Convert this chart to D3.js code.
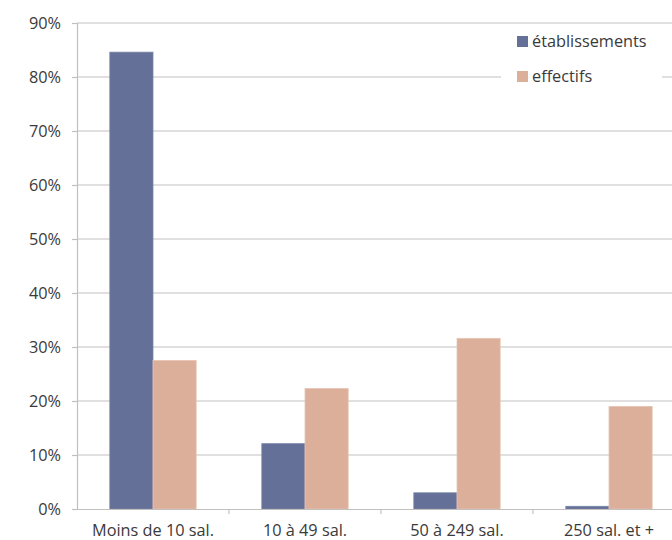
<!DOCTYPE html>
<html>
<head>
<meta charset="utf-8">
<script src="https://cdn.jsdelivr.net/npm/d3@7"></script>
<style>
  body { margin: 0; background: #fff; }
  text { font-family: "Open Sans", Lato, sans-serif; fill: #3a3a3a; }
</style>
</head>
<body>
<svg id="chart" width="672" height="540"></svg>
<script>
const categories = ['Moins de 10 sal.', '10 à 49 sal.', '50 à 249 sal.', '250 sal. et +'];
const seriesNames = ['établissements', 'effectifs'];
const etablissements = [0.846, 0.121, 0.030, 0.005];
const effectifs = [0.275, 0.223, 0.316, 0.190];
const yTicks = [0, 0.1, 0.2, 0.3, 0.4, 0.5, 0.6, 0.7, 0.8, 0.9];

const colours = ['#647097', '#dbaf9a'];
const fontSize = '16.3px';

const svg = d3.select('#chart');
const margin = { left: 77, top: 23, bottom: 31 };
const plotRight = 77 + 4 * 152;
const height = 540 - margin.bottom;

const x = d3.scaleBand()
  .domain(categories)
  .range([margin.left, plotRight])
  .paddingInner(0)
  .paddingOuter(0);

const xInner = d3.scaleBand()
  .domain(seriesNames)
  .range([0, x.bandwidth()])
  .paddingInner(0)
  .paddingOuter(0.76);

const y = d3.scaleLinear()
  .domain([0, 0.9])
  .range([height, margin.top]);

// gridlines
svg.append('g')
  .selectAll('line')
  .data(yTicks.slice(1))
  .join('line')
  .attr('x1', margin.left)
  .attr('x2', 672)
  .attr('y1', (d) => y(d))
  .attr('y2', (d) => y(d))
  .attr('stroke', '#c3bfbf')
  .attr('stroke-width', 1.2);

// bars
const rows = categories.map((c, i) => ({ cat: c, values: [etablissements[i], effectifs[i]] }));
svg.append('g')
  .selectAll('g')
  .data(rows)
  .join('g')
  .attr('transform', (d) => `translate(${x(d.cat)},0)`)
  .selectAll('rect')
  .data((d) => d.values.map((v, j) => ({ name: seriesNames[j], v, j })))
  .join('rect')
  .attr('x', (d) => xInner(d.name))
  .attr('width', xInner.bandwidth())
  .attr('y', (d) => y(d.v))
  .attr('height', (d) => height - y(d.v))
  .attr('fill', (d) => colours[d.j])
  .attr('stroke', (d) => (d.j === 0 ? '#7a85a8' : '#e6c4b4'))
  .attr('stroke-width', 0.8);

// y axis
const yAxis = d3.axisLeft(y)
  .tickValues(yTicks)
  .tickFormat(d3.format('.0%'))
  .tickSize(5)
  .tickPadding(11);
const yg = svg.append('g')
  .attr('transform', `translate(${margin.left},0)`)
  .call(yAxis);
yg.selectAll('.domain').attr('stroke', '#c3bfbf').attr('stroke-width', 1.2);
yg.selectAll('.tick line').attr('stroke', '#c3bfbf').attr('stroke-width', 1.2);
yg.selectAll('.tick text').style('font-size', fontSize).attr('fill', '#3a3a3a');

// x axis
const xAxis = d3.axisBottom(x)
  .tickSize(0)
  .tickPadding(15);
const xg = svg.append('g')
  .attr('transform', `translate(0,${height})`)
  .call(xAxis);
xg.selectAll('.domain').attr('stroke', '#c3bfbf').attr('stroke-width', 1.2);
xg.selectAll('.tick text').style('font-size', fontSize).attr('fill', '#3a3a3a');
// category separators
xg.selectAll('.sep')
  .data(categories.slice(1))
  .join('line')
  .attr('class', 'sep')
  .attr('x1', (d) => x(d))
  .attr('x2', (d) => x(d))
  .attr('y1', 0)
  .attr('y2', 5)
  .attr('stroke', '#c3bfbf')
  .attr('stroke-width', 1.2);

// legend
const legend = svg.append('g').attr('transform', 'translate(501,30)');
legend.append('rect')
  .attr('x', 0)
  .attr('y', 0)
  .attr('width', 161)
  .attr('height', 60)
  .attr('fill', '#fff');
const items = legend.selectAll('g')
  .data(seriesNames)
  .join('g')
  .attr('transform', (d, i) => `translate(16,${6 + i * 35})`);
items.append('rect')
  .attr('width', 11)
  .attr('height', 11)
  .attr('fill', (d, i) => colours[i]);
items.append('text')
  .attr('x', 15)
  .attr('y', 11)
  .style('font-size', fontSize)
  .text((d) => d);
</script>
</body>
</html>
